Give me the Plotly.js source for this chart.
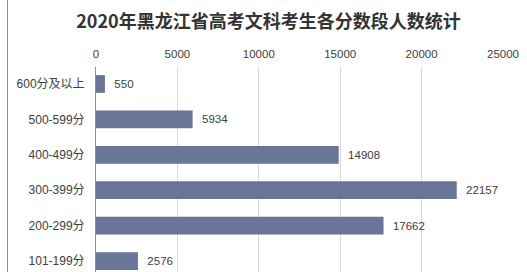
<!DOCTYPE html>
<html>
<head>
<meta charset="utf-8">
<script src="https://cdn.plot.ly/plotly-3.0.1.min.js"></script>
<style>
html,body{margin:0;padding:0;background:#fff;}
#wrap{position:relative;width:527px;height:272px;overflow:hidden;}
#chart{width:527px;height:272px;}
#edge{position:absolute;left:7px;top:0;width:1px;height:272px;background:#8c8c8c;}
</style>
</head>
<body>
<div id="wrap"><div id="chart"></div><div id="edge"></div></div>
<script>
const categories = ["600分及以上", "500-599分", "400-499分", "300-399分", "200-299分", "101-199分"];
const counts = [550, 5934, 14908, 22157, 17662, 2576];
const xTicks = [0, 5000, 10000, 15000, 20000, 25000];
const chartTitle = "2020年黑龙江省高考文科考生各分数段人数统计";

const fontFam = '"Liberation Sans", Arial, "Noto Sans CJK SC", sans-serif';

const trace = {
  type: 'bar',
  orientation: 'h',
  x: counts,
  y: categories,
  width: 0.5,
  marker: {color: '#697599'},
  text: counts.map(v => '\u00a0\u00a0' + v),
  textposition: 'outside',
  cliponaxis: false,
  textfont: {family: fontFam, size: 11.5, color: '#404040'},
  hoverinfo: 'none'
};

const layout = {
  width: 527,
  height: 272,
  margin: {l: 96, r: 23.5, t: 67, b: 0},
  paper_bgcolor: '#ffffff',
  plot_bgcolor: '#ffffff',
  showlegend: false,
  title: {
    text: chartTitle,
    font: {family: '"Noto Sans CJK SC", sans-serif', size: 18, color: '#333333', weight: 'bold'},
    x: 0.5095, xref: 'container', xanchor: 'center',
    y: 1 - 22/272, yref: 'container', yanchor: 'middle'
  },
  xaxis: {
    side: 'top',
    range: [0, 25000],
    tickvals: xTicks,
    ticktext: xTicks.map(String),
    showgrid: true,
    gridcolor: '#d9d9d9',
    gridwidth: 1,
    zeroline: false,
    showline: false,
    ticks: '',
    tickfont: {family: fontFam, size: 11.5, color: '#404040'},
    ticklabelstandoff: 6,
    fixedrange: true
  },
  yaxis: {
    type: 'category',
    categoryorder: 'array',
    categoryarray: categories,
    range: [5.31, -0.48],
    showgrid: false,
    zeroline: false,
    showline: true,
    linecolor: '#8c8c8c',
    linewidth: 1,
    ticks: '',
    tickfont: {family: fontFam, size: 12, color: '#404040'},
    ticklabelstandoff: 8,
    fixedrange: true
  }
};

Plotly.newPlot('chart', [trace], layout, {staticPlot: true, displayModeBar: false});
</script>
</body>
</html>
